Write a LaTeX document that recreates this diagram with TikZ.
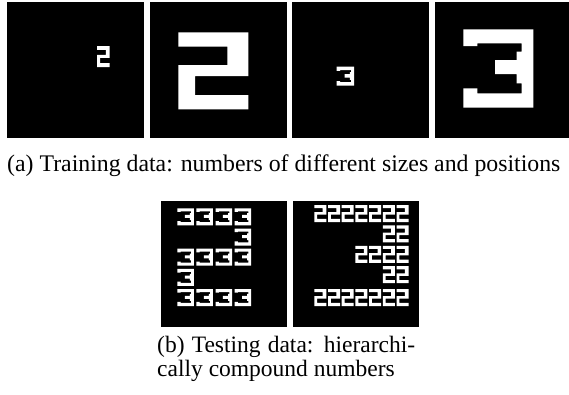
\documentclass[tikz,border=0pt]{standalone}
\usepackage{fontspec}
\setmainfont{Liberation Serif}
\newcommand{\DigTwo}[4]{\fill[digit,shift={(#1,#2)},xscale=#3,yscale=#4] (0,0) -- (1,0) -- (1,0.5675) -- (0.2386,0.5675) -- (0.2386,0.8143) -- (1,0.8143) -- (1,1) -- (0,1) -- (0,0.4247) -- (0.7,0.4247) -- (0.7,0.187) -- (0,0.187) -- cycle;}
\newcommand{\DigThree}[4]{\fill[digit,shift={(#1,#2)},xscale=#3,yscale=#4] (0,0) -- (1,0) -- (1,1) -- (0,1) -- (0,0.7526) -- (0.2,0.7526) -- (0.2,0.8163) -- (0.8343,0.8163) -- (0.8343,0.6888) -- (0.7629,0.6888) -- (0.7629,0.5702) -- (0.4529,0.5702) -- (0.4529,0.3916) -- (0.7629,0.3916) -- (0.7629,0.2857) -- (0.8343,0.2857) -- (0.8343,0.1786) -- (0.2,0.1786) -- (0.2,0.213) -- (0,0.213) -- cycle;}
\begin{document}
\begin{tikzpicture}[x=1pt,y=-1pt,
  panel/.style={fill=black},
  digit/.style={fill=white},
  captext/.style={anchor=base west,inner sep=0pt,font=\fontsize{23.5}{28}\selectfont}]
\useasboundingbox (0,0) rectangle (569,394);
\fill[white] (0,0) rectangle (569,394);
% top row panels
\fill[panel] (7,2) rectangle (144,138);
\fill[panel] (150,2) rectangle (287,138);
\fill[panel] (292,2) rectangle (429,138);
\fill[panel] (435,2) rectangle (569,138);
\DigTwo{97}{46}{12.7}{21}
\DigTwo{178.3}{32.3}{70}{77}
\DigThree{336.7}{66.7}{17.3}{19}
\DigThree{463.3}{29.3}{70}{78.4}
\node[captext,font=\fontsize{23.8}{28}\selectfont] (capA) at (7,171) {(a) Training data: numbers of different sizes and positions};
% bottom panels
\fill[panel] (161,201) rectangle (287,327);
\fill[panel] (293,201) rectangle (419,327);
% "2" made of 3s
\foreach \i in {0,1,2,3} {\DigThree{177.3+19.1*\i}{208.3}{16.5}{17}}
\DigThree{234.6}{228.5}{16.5}{17}
\foreach \i in {0,1,2,3} {\DigThree{177.3+19.1*\i}{248.7}{16.5}{17}}
\DigThree{177.3}{268.9}{16.5}{17}
\foreach \i in {0,1,2,3} {\DigThree{177.3+19.1*\i}{289.1}{16.5}{17}}
% "3" made of 2s
\foreach \i in {0,...,6} {\DigTwo{314.3+13.7*\i}{205}{12}{17}}
\foreach \i in {5,6} {\DigTwo{314.3+13.7*\i}{225.4}{12}{17}}
\foreach \i in {3,...,6} {\DigTwo{314.3+13.7*\i}{245.8}{12}{17}}
\foreach \i in {5,6} {\DigTwo{314.3+13.7*\i}{266.2}{12}{17}}
\foreach \i in {0,...,6} {\DigTwo{314.3+13.7*\i}{289}{12}{17}}
\node[captext] (capB1) at (157,352) {\makebox[258pt][s]{(b) Testing data: hierarchi-}};
\node[captext] (capB2) at (157,376) {cally compound numbers};
\end{tikzpicture}
\end{document}
